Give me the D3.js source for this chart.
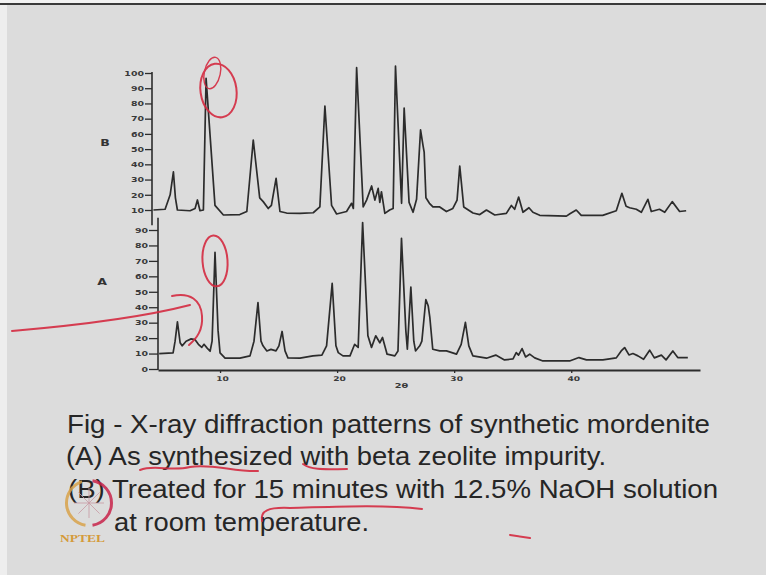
<!DOCTYPE html>
<html>
<head>
<meta charset="utf-8">
<script src="https://cdn.jsdelivr.net/npm/d3@7"></script>
<style>
  html, body { margin: 0; padding: 0; background: #dcdcdc; }
  svg { display: block; }
</style>
</head>
<body>
<svg id="chart" width="766" height="575"></svg>
<script>
// ---------------- data ----------------
const thetaA = [4.8, 5.99, 6.16, 6.36, 6.59, 6.76, 7.1, 7.53, 7.87, 8.15,
  8.44, 8.63, 8.9, 9.15, 9.32, 9.57, 9.83, 10.0, 10.43, 11.7,
  12.56, 12.9, 13.24, 13.5, 13.67, 14.0, 14.35, 14.78, 15.03, 15.3,
  15.55, 15.8, 16.83, 17.94, 18.7, 19.1, 19.58, 19.9, 20.1, 20.5,
  21.1, 21.5, 21.8, 22.18, 22.63, 22.94, 23.3, 23.65, 23.88, 24.27,
  24.93, 25.2, 25.5, 25.87, 26.0, 26.3, 26.55, 26.7, 27.06, 27.24,
  27.58, 27.78, 27.92, 28.17, 28.77, 29.34, 30.2, 30.6, 30.96, 31.25,
  31.6, 32.76, 33.55, 34.3, 35.03, 35.3, 35.5, 35.8, 36.1, 36.45,
  36.88, 37.58, 39.86, 40.66, 41.3, 42.7, 43.85, 44.27, 44.56, 44.93,
  45.27, 45.7, 46.18, 46.7, 47.1, 47.7, 48.1, 48.68, 49.1, 49.96];
const intensityA = [10, 10.4, 18, 30.6, 17, 15, 18, 19.5, 19, 16,
  14, 16, 13.5, 11.5, 18, 75.5, 25, 10.4, 7, 7,
  8.5, 18, 43, 18, 15, 11.7, 12.7, 11.7, 15, 24.3,
  11.7, 7.2, 7, 8.5, 9, 15, 55.4, 15, 10.6, 8.5,
  8.5, 16, 14, 94.8, 21.5, 14, 21.5, 17, 20.4, 9.6,
  8.5, 11.7, 84.6, 25, 12.8, 53, 18, 11.7, 15, 18,
  45, 41, 33.5, 12.8, 11.7, 11.7, 9.6, 16, 30.2, 15,
  8.5, 7, 9, 5.9, 6.5, 10.6, 9, 13.2, 7.8, 9.6,
  7.2, 5.2, 5.2, 7.4, 5.9, 5.9, 7.2, 11.7, 13.9, 9.1,
  10, 8.5, 6.3, 12.2, 7.2, 9, 5.9, 11.7, 7.4, 7.4];

const thetaB = [4.82, 5.82, 6.25, 6.53, 6.7, 6.87, 7.95, 8.38, 8.58, 8.8,
  9.09, 9.32, 10.08, 10.8, 12.2, 12.8, 13.35, 13.9, 14.2, 14.63,
  14.9, 15.3, 15.63, 16.2, 17.34, 18.47, 19.04, 19.47, 20.04, 20.47,
  21.32, 21.75, 21.9, 22.18, 22.74, 23.03, 23.46, 23.74, 24.02, 24.16,
  24.3, 24.59, 25.0, 25.3, 25.5, 26.02, 26.24, 26.66, 27.0, 27.3,
  27.64, 27.86, 27.95, 28.1, 28.4, 28.7, 29.28, 29.85, 30.4, 30.76,
  30.99, 31.33, 32.12, 32.7, 33.27, 33.98, 34.97, 35.4, 35.68, 36.02,
  36.39, 36.9, 37.24, 37.82, 40.1, 40.4, 40.94, 41.37, 43.2, 44.36,
  44.84, 45.2, 45.5, 46.07, 46.5, 47.06, 47.35, 48.05, 48.5, 49.14,
  49.77, 50.33];
const intensityB = [10, 10.5, 20, 35, 18, 10, 9.5, 11, 16.6, 9.5,
  10, 96.5, 13, 6.7, 7, 9, 56, 18, 15.5, 11,
  13, 30.8, 9, 8, 7.8, 8.2, 12, 78.3, 13, 7.4,
  9, 14.4, 11, 103.5, 12, 16.5, 25.8, 16.5, 24.2, 15,
  22, 7.8, 10, 11, 104.5, 14.4, 77, 15, 8.5, 17,
  62.6, 52, 48, 18, 14.4, 12, 12, 9, 11, 16.5,
  38.9, 12, 8, 7, 10, 6.7, 7.8, 13, 10.5, 18.5,
  8.5, 11.5, 8.5, 6.5, 6, 7.5, 10, 6.5, 6.5, 9.5,
  21, 12.5, 11.5, 10.5, 8.5, 17, 9, 10.5, 8.5, 15.5,
  9, 9.5];

const yTicksA = [0, 10, 20, 30, 40, 50, 60, 70, 80, 90];
const yTicksB = [10, 20, 30, 40, 50, 60, 70, 80, 90, 100];
const xTicks = [10, 20, 30, 40];
const seriesLabels = ["A", "B"];
const xTitle = "2θ";
const caption = [
  "Fig - X-ray diffraction patterns of synthetic mordenite",
  "(A) As synthesized with beta zeolite impurity.",
  "(B) Treated for 15 minutes with 12.5% NaOH solution",
  "at room temperature."
];

// ---------------- layout ----------------
const svg = d3.select("#chart");
const W = 766, H = 575;

// slide background
svg.append("rect").attr("x", 0).attr("y", 0).attr("width", W).attr("height", H).attr("fill", "#dcdcdc");
svg.append("rect").attr("x", 0).attr("y", 0).attr("width", 7).attr("height", H).attr("fill", "#eeeeee");
svg.append("rect").attr("x", 0).attr("y", 0).attr("width", W).attr("height", 3).attr("fill", "#f2f2f2");
svg.append("rect").attr("x", 0).attr("y", 3).attr("width", W).attr("height", 2).attr("fill", "#3a3a3a");

const xA = d3.scaleLinear().domain([4.7, 51]).range([158, 700]);
const xB = d3.scaleLinear().domain([4.7, 51]).range([152, 694]);
const yA = d3.scaleLinear().domain([0, 90]).range([369, 230]);
const yB = d3.scaleLinear().domain([10, 100]).range([210, 73]);

const ink = "#2c2c2c";
const tickFont = "'DejaVu Sans', sans-serif";

function styleYAxis(g, len) {
  g.select(".domain").remove();
  g.selectAll(".tick line").attr("stroke", ink).attr("stroke-width", 1.3).attr("x2", -len);
  g.selectAll(".tick text")
    .attr("x", 0).attr("dy", "0.35em")
    .attr("transform", `translate(${-len - 1},0) scale(1.45,1)`)
    .attr("fill", "#3a3a3a")
    .style("font-family", tickFont).style("font-size", "6.5px").style("font-weight", "bold");
}

// B axis
const gB = svg.append("g").attr("transform", `translate(${xB(4.7)},0)`);
gB.call(d3.axisLeft(yB).tickValues(yTicksB).tickSize(7).tickFormat(d3.format("d")));
styleYAxis(gB, 7);
gB.append("line").attr("x1", 0).attr("x2", 0).attr("y1", yB(100) - 1).attr("y2", yB(0))
  .attr("stroke", ink).attr("stroke-width", 1.6);

// A axis
const gA = svg.append("g").attr("transform", `translate(${xA(4.7)},0)`);
gA.call(d3.axisLeft(yA).tickValues(yTicksA).tickSize(9).tickFormat(d3.format("d")));
styleYAxis(gA, 9);
gA.append("line").attr("x1", 0).attr("x2", 0).attr("y1", yA(98)).attr("y2", yA(0) + 1)
  .attr("stroke", ink).attr("stroke-width", 1.6);

// X axis (bottom)
const gX = svg.append("g").attr("transform", `translate(0,${yA(0) + 1})`);
gX.call(d3.axisBottom(xA).tickValues(xTicks).tickSize(3).tickSizeOuter(0).tickFormat(d3.format("d")));
gX.select(".domain").attr("stroke", ink).attr("stroke-width", 1.8);
gX.selectAll(".tick line").attr("stroke", ink).attr("stroke-width", 1.3);
gX.selectAll(".tick text")
  .attr("y", 0).attr("dy", "0.71em")
  .attr("transform", "translate(2,6) scale(1.4,1)")
  .attr("fill", "#3a3a3a")
  .style("font-family", tickFont).style("font-size", "6.5px").style("font-weight", "bold");

svg.append("text")
  .attr("transform", `translate(${xA(25.5)},${yA(0) + 19}) scale(1.4,1)`)
  .attr("text-anchor", "middle")
  .attr("fill", "#3a3a3a")
  .style("font-family", tickFont).style("font-size", "7px").style("font-weight", "bold")
  .text(xTitle);

// series labels
svg.append("text")
  .attr("transform", `translate(105,${yB(55) + 4}) scale(1.4,1)`)
  .attr("text-anchor", "middle").attr("fill", "#333")
  .style("font-family", tickFont).style("font-size", "9px").style("font-weight", "bold")
  .text(seriesLabels[1]);
svg.append("text")
  .attr("transform", `translate(102,${yA(57) + 4}) scale(1.4,1)`)
  .attr("text-anchor", "middle").attr("fill", "#333")
  .style("font-family", tickFont).style("font-size", "9px").style("font-weight", "bold")
  .text(seriesLabels[0]);

// patterns
const dataA = thetaA.map((t, i) => [t, intensityA[i]]);
const dataB = thetaB.map((t, i) => [t, intensityB[i]]);
const lineA = d3.line().x(d => xA(d[0])).y(d => yA(d[1]));
const lineB = d3.line().x(d => xB(d[0])).y(d => yB(d[1]));

svg.append("path").datum(dataB).attr("d", lineB)
  .attr("fill", "none").attr("stroke", ink).attr("stroke-width", 1.7)
  .attr("stroke-linejoin", "round");
svg.append("path").datum(dataA).attr("d", lineA)
  .attr("fill", "none").attr("stroke", ink).attr("stroke-width", 1.7)
  .attr("stroke-linejoin", "round");

// caption
const capX = [67, 66, 68, 114];
const capY = [433, 465, 498, 531];
const capW = [643, 540, 650, 255];
caption.forEach((s, i) => {
  svg.append("text")
    .attr("x", capX[i]).attr("y", capY[i])
    .attr("textLength", capW[i]).attr("lengthAdjust", "spacingAndGlyphs")
    .attr("fill", "#262626")
    .style("font-family", "'Liberation Sans Narrow', 'Liberation Sans', Arial, sans-serif")
    .style("font-size", "26.5px")
    .text(s);
});

// NPTEL logo
const logo = svg.append("g");
logo.append("path").attr("d", d3.arc()({innerRadius: 21, outerRadius: 24, startAngle: -Math.PI * 0.95, endAngle: -Math.PI * 0.1}))
  .attr("transform", "translate(89,503)").attr("fill", "#d8a24a").attr("opacity", 0.85);
logo.append("path").attr("d", d3.arc()({innerRadius: 21, outerRadius: 24, startAngle: Math.PI * 0.05, endAngle: Math.PI * 0.95}))
  .attr("transform", "translate(89,503)").attr("fill", "#c8234a").attr("opacity", 0.85);
d3.range(8).forEach(k => {
  const a = k * Math.PI / 4;
  logo.append("line").attr("x1", 89).attr("y1", 503)
    .attr("x2", 89 + 15 * Math.cos(a)).attr("y2", 503 + 15 * Math.sin(a))
    .attr("stroke", "#c99aa4").attr("stroke-width", 1).attr("opacity", 0.8);
});
logo.append("text").attr("transform", "translate(60,542) scale(1.35,1)")
  .attr("fill", "#d49a3a")
  .style("font-family", "'Liberation Serif', serif").style("font-size", "10px").style("font-weight", "bold")
  .text("NPTEL");

// red hand-drawn annotations
const red = "#d42a40";
const ann = svg.append("g").attr("fill", "none").attr("stroke", red).attr("stroke-width", 2)
  .attr("stroke-linecap", "round").attr("opacity", 0.9);
ann.append("ellipse").attr("cx", 0).attr("cy", 0).attr("rx", 18).attr("ry", 27)
  .attr("transform", `translate(${xB(10.38)},${yB(88.5)}) rotate(-8)`);
ann.append("ellipse").attr("cx", 0).attr("cy", 0).attr("rx", 8).attr("ry", 16)
  .attr("transform", `translate(${xB(9.85)},${yB(100)}) rotate(12)`).attr("stroke-width", 1.4);
ann.append("ellipse").attr("cx", 0).attr("cy", 0).attr("rx", 12.5).attr("ry", 25.5)
  .attr("transform", `translate(${xA(9.57)},${yA(70)}) rotate(-4)`);
ann.append("path").attr("d", "M12,331 C70,326 140,318 190,305");
ann.append("path").attr("d", "M172,296 C190,292 201,300 202,316 C203,330 197,338 189,345");
ann.append("path").attr("d", "M140,470 C155,464 170,472 190,467 C210,463 235,472 258,471");
ann.append("path").attr("d", "M303,464 C312,471 330,469 347,469");
ann.append("path").attr("d", "M262,521 C260,511 268,507 290,508 C330,507 380,504 422,509");
ann.append("path").attr("d", "M510,535 L530,538");
</script>
</body>
</html>
